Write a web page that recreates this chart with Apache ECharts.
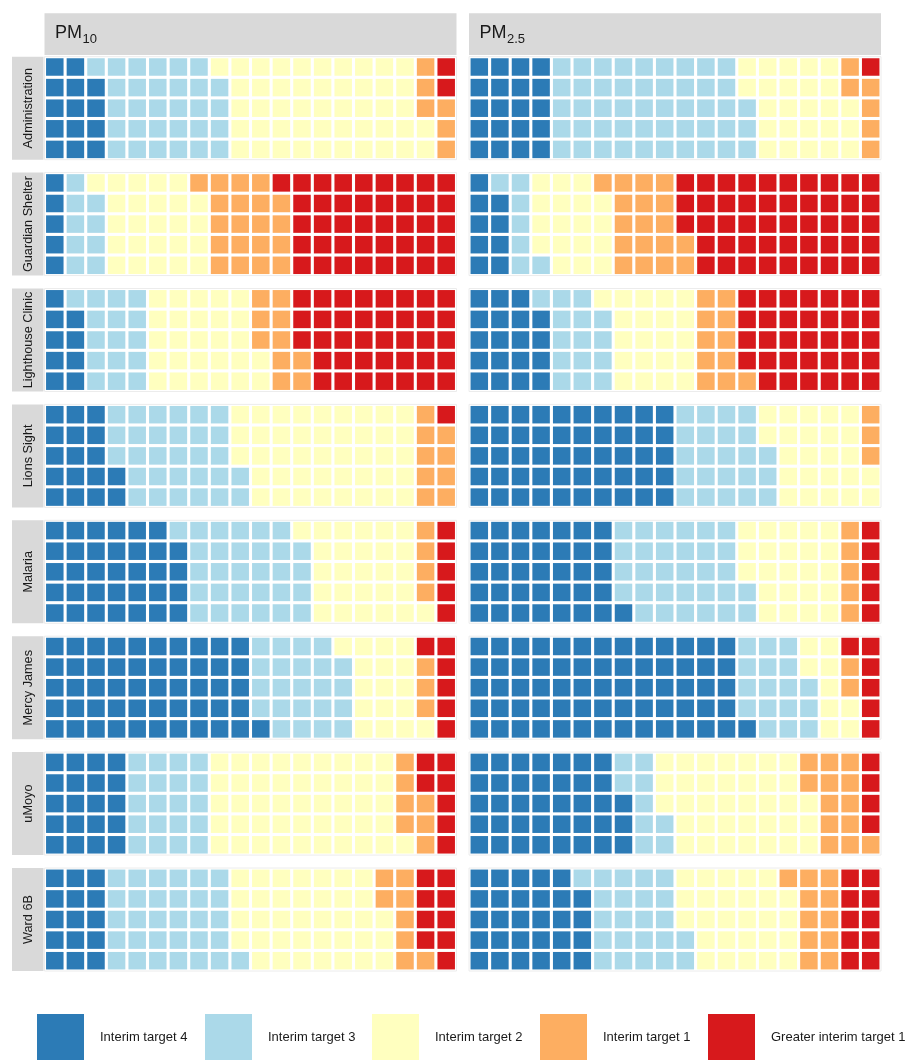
<!DOCTYPE html>
<html>
<head>
<meta charset="utf-8">
<script src="https://cdn.jsdelivr.net/npm/echarts@6/dist/echarts.min.js"></script>
<style>
  html, body { margin: 0; padding: 0; background: #fff; }
  #chart { width: 907px; height: 1060px; }
</style>
</head>
<body>
<div id="chart"></div>
<script>
// sites (facet rows) and pollutants (facet columns)
const sites = ["Administration", "Guardian Shelter", "Lighthouse Clinic", "Lions Sight",
  "Malaria", "Mercy James", "uMoyo", "Ward 6B"];
const pollutants = [["PM", "10"], ["PM", "2.5"]];

const levels = ["Interim target 4", "Interim target 3", "Interim target 2",
  "Interim target 1", "Greater interim target 1"];
const levelColors = ["#2c7bb6", "#abd9e9", "#ffffbf", "#fdae61", "#d7191c"];

// number of squares (out of 100) per level, one row per site
const pm10Counts = [
  [14, 30, 48, 6, 2],
  [5, 9, 25, 20, 41],
  [9, 16, 27, 10, 38],
  [17, 30, 43, 9, 1],
  [34, 30, 27, 4, 5],
  [51, 23, 17, 3, 6],
  [20, 20, 46, 7, 7],
  [15, 31, 37, 8, 9]
];
const pm25Counts = [
  [20, 48, 25, 6, 1],
  [9, 7, 18, 18, 48],
  [19, 15, 21, 11, 34],
  [50, 23, 24, 3, 0],
  [36, 31, 23, 5, 5],
  [66, 17, 9, 2, 6],
  [38, 9, 36, 13, 4],
  [29, 23, 27, 11, 10]
];

const nCols = 20;
const nRows = 5;
const colTicks = Array.from({ length: nCols }, (_, i) => i);
const rowTicks = Array.from({ length: nRows }, (_, i) => i);

const FONT = "'Liberation Sans', Arial, sans-serif";
const panelLeft = [44.5, 469];
const panelWidth = 412;
const panelTop0 = 56.7;
const panelPitch = 115.9;
const panelHeight = 103;

// one square, inset so the white gaps show
const renderCell = (params, api) => {
  const c = api.coord([api.value(0), api.value(1)]);
  const s = api.size([1, 1]);
  return {
    type: "rect",
    shape: { x: c[0] - s[0] / 2 + 1.55, y: c[1] - s[1] / 2 + 1.55, width: s[0] - 3.1, height: s[1] - 3.1 },
    style: api.style()
  };
};

const grids = [];
const xAxes = [];
const yAxes = [];
const series = [];
const graphics = [];

sites.forEach((site, i) => {
  const top = panelTop0 + i * panelPitch;
  [pm10Counts, pm25Counts].forEach((counts, j) => {
    const g = grids.length;
    grids.push({
      left: panelLeft[j], top: top, width: panelWidth, height: panelHeight,
      show: true, borderColor: "#ececec", borderWidth: 1, backgroundColor: "#fff"
    });
    xAxes.push({ type: "category", gridIndex: g, data: colTicks, show: false });
    yAxes.push({ type: "category", gridIndex: g, data: rowTicks, show: false });

    // fill column by column, bottom to top
    let k = 0;
    counts[i].forEach((n, L) => {
      const data = [];
      for (let m = 0; m < n; m++, k++) data.push([Math.floor(k / nRows), k % nRows]);
      series.push({
        type: "custom",
        name: levels[L],
        xAxisIndex: g,
        yAxisIndex: g,
        renderItem: renderCell,
        itemStyle: { color: levelColors[L] },
        data: data
      });
    });
  });

  // row strip on the left
  graphics.push({
    type: "rect",
    shape: { x: 12, y: top, width: 31.5, height: panelHeight },
    style: { fill: "#d9d9d9" }
  });
  graphics.push({
    type: "text",
    x: 28.5, y: top + panelHeight / 2,
    rotation: Math.PI / 2,
    style: {
      text: site, fill: "#1a1a1a", font: "12.7px " + FONT,
      align: "center", verticalAlign: "middle"
    }
  });
});

// column strips on top
pollutants.forEach((p, j) => {
  graphics.push({
    type: "rect",
    shape: { x: panelLeft[j], y: 13.3, width: panelWidth, height: 41.7 },
    style: { fill: "#d9d9d9" }
  });
  graphics.push({
    type: "text", x: panelLeft[j] + 10.5, y: 33,
    style: { text: p[0], fill: "#1a1a1a", font: "18px " + FONT, verticalAlign: "middle" }
  });
  graphics.push({
    type: "text", x: panelLeft[j] + 38, y: 39.3,
    style: { text: p[1], fill: "#1a1a1a", font: "13px " + FONT, verticalAlign: "middle" }
  });
});

const legendLeft = [37, 205, 372, 540, 708];
const legends = levels.map((name, L) => ({
  data: [name],
  left: legendLeft[L],
  top: 1014,
  padding: 0,
  icon: "rect",
  itemWidth: 47,
  itemHeight: 46,
  selectedMode: false,
  textStyle: { fontFamily: FONT, fontSize: 13, color: "#1a1a1a", padding: [0, 0, 0, 11] }
}));

const chart = echarts.init(document.getElementById("chart"));
chart.setOption({
  animation: false,
  backgroundColor: "#fff",
  grid: grids,
  xAxis: xAxes,
  yAxis: yAxes,
  legend: legends,
  series: series,
  graphic: graphics
});
window.addEventListener("resize", () => chart.resize());
</script>
</body>
</html>
